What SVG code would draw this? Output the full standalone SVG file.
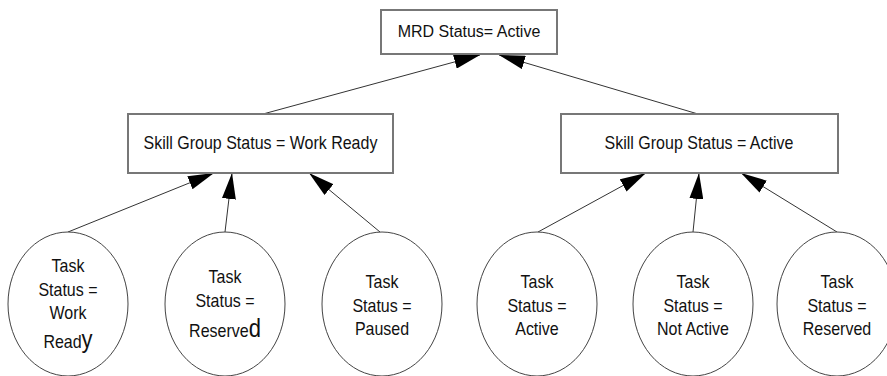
<svg xmlns="http://www.w3.org/2000/svg" width="887" height="376" viewBox="0 0 887 376">
<style>
.box{fill:#fff;stroke:#777;stroke-width:2}
.ell{fill:#fff;stroke:#444;stroke-width:1}
.con{stroke:#333;stroke-width:1;fill:none;marker-end:url(#ah)}
text{font-family:"Liberation Sans",Arial,sans-serif;font-size:16px;fill:#111;text-anchor:middle}
.big{font-size:22px}
</style>
<defs>
<marker id="ah" markerUnits="userSpaceOnUse" markerWidth="26" markerHeight="14" refX="26" refY="7" orient="auto">
<path d="M0,0 L26,7 L0,14 z" fill="#000"/>
</marker>
</defs>
<rect width="887" height="376" fill="#fff"/>
<g id="connectors">
<line class="con" x1="263" y1="114" x2="480" y2="55"/>
<line class="con" x1="698" y1="114" x2="499" y2="55"/>
<line class="con" x1="68" y1="232" x2="214" y2="173"/>
<line class="con" x1="225" y1="232" x2="232" y2="173"/>
<line class="con" x1="380" y1="232" x2="309" y2="173"/>
<line class="con" x1="538" y1="232" x2="646" y2="173"/>
<line class="con" x1="693" y1="232" x2="699" y2="173"/>
<line class="con" x1="837" y1="232" x2="741" y2="173"/>
</g>
<g id="mrd">
<rect class="box" x="381" y="10" width="176" height="44"/>
<text x="469" y="34.26" transform="scale(1,1.08)">MRD Status= Active</text>
</g>
<g id="sg-work-ready">
<rect class="box" x="128" y="114" width="265" height="59"/>
<text x="260.5" y="124.17" transform="scale(1,1.2)">Skill Group Status = Work Ready</text>
</g>
<g id="sg-active">
<rect class="box" x="561" y="114" width="277" height="59"/>
<text x="699" y="124.17" transform="scale(1,1.2)">Skill Group Status = Active</text>
</g>
<g id="task-work-ready">
<ellipse class="ell" cx="68" cy="304" rx="60" ry="72"/>
<text transform="scale(1,1.2)"><tspan x="68" y="226.67">Task</tspan><tspan x="68" y="246.67">Status =</tspan><tspan x="68" y="265.83">Work</tspan><tspan x="68" y="290">Read<tspan class="big">y</tspan></tspan></text>
</g>
<g id="task-reserved-1">
<ellipse class="ell" cx="225" cy="304" rx="60" ry="72"/>
<text transform="scale(1,1.2)"><tspan x="225" y="235.83">Task</tspan><tspan x="225" y="255.83">Status =</tspan><tspan x="225" y="280.83">Reserve<tspan class="big">d</tspan></tspan></text>
</g>
<g id="task-paused">
<ellipse class="ell" cx="382" cy="304" rx="60" ry="72"/>
<text transform="scale(1,1.2)"><tspan x="382" y="240">Task</tspan><tspan x="382" y="260">Status =</tspan><tspan x="382" y="279.17">Paused</tspan></text>
</g>
<g id="task-active">
<ellipse class="ell" cx="537" cy="304" rx="60" ry="72"/>
<text transform="scale(1,1.2)"><tspan x="537" y="240">Task</tspan><tspan x="537" y="260">Status =</tspan><tspan x="537" y="279.17">Active</tspan></text>
</g>
<g id="task-not-active">
<ellipse class="ell" cx="693" cy="304" rx="60" ry="72"/>
<text transform="scale(1,1.2)"><tspan x="693" y="240">Task</tspan><tspan x="693" y="260">Status =</tspan><tspan x="693" y="279.17">Not Active</tspan></text>
</g>
<g id="task-reserved-2">
<ellipse class="ell" cx="837" cy="304" rx="60" ry="72"/>
<text transform="scale(1,1.2)"><tspan x="837" y="240">Task</tspan><tspan x="837" y="260">Status =</tspan><tspan x="837" y="279.17">Reserved</tspan></text>
</g>
</svg>
